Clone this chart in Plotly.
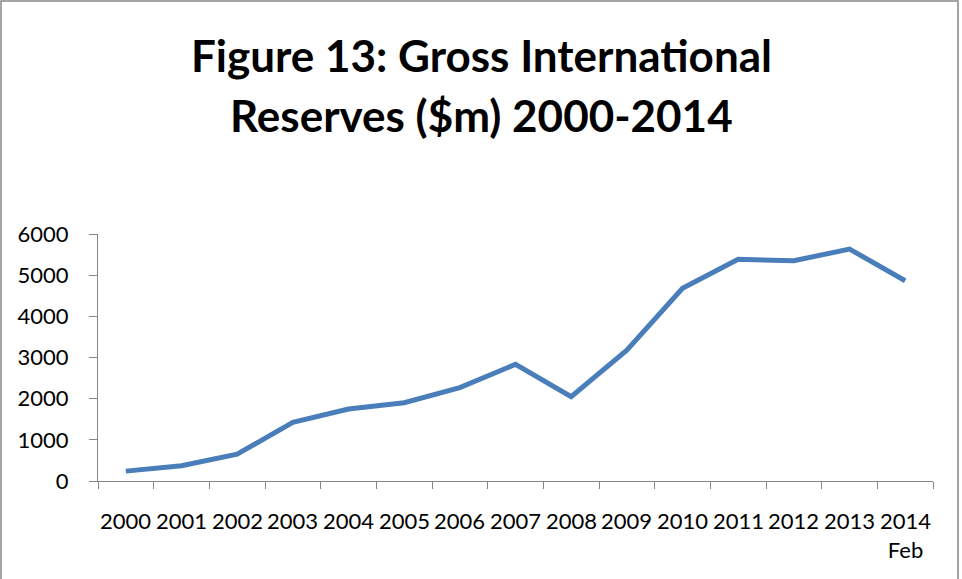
import plotly.graph_objects as go

years = ["2000", "2001", "2002", "2003", "2004", "2005", "2006", "2007",
         "2008", "2009", "2010", "2011", "2012", "2013", "2014<br>Feb"]
reserves = [240, 370, 650, 1425, 1750, 1900, 2270, 2835,
            2050, 3180, 4680, 5385, 5350, 5635, 4865]
y_ticks = [0, 1000, 2000, 3000, 4000, 5000, 6000]
title_lines = ["Figure 13: Gross International", "Reserves ($m) 2000-2014"]

W, H = 962, 579
L, R, T, B = 98, 29, 234, 98
pw, ph = W - L - R, H - T - B

def px_x(x):
    return (x - L) / pw

def px_y(y):
    return (H - B - y) / ph

fig = go.Figure()
fig.add_trace(go.Scatter(
    x=list(range(len(years))), y=reserves, mode="lines",
    line=dict(color="#4a7ebb", width=5), hoverinfo="skip", showlegend=False))

fig.update_layout(
    width=W, height=H,
    margin=dict(l=L, r=R, t=T, b=B),
    paper_bgcolor="white", plot_bgcolor="white",
    font=dict(family="Lato", color="black", size=22),
    xaxis=dict(
        range=[-0.5, len(years) - 0.5],
        tickmode="array", tickvals=[i - 0.5 for i in range(len(years) + 1)],
        ticktext=[""] * (len(years) + 1),
        ticks="outside", ticklen=7, tickcolor="#868686", tickwidth=1,
        showline=True, linecolor="#868686", linewidth=1,
        showgrid=False, zeroline=False, fixedrange=True),
    yaxis=dict(
        range=[0, 6000], tickvals=y_ticks,
        ticks="outside", ticklen=8, tickcolor="#868686", tickwidth=1,
        ticklabelstandoff=16,
        showline=True, linecolor="#868686", linewidth=1,
        showgrid=False, zeroline=False, fixedrange=True,
        tickfont=dict(size=22)),
)

# category labels
for i, lab in enumerate(years):
    fig.add_annotation(x=i, y=0, xref="x", yref="y", text=lab, showarrow=False,
                       yanchor="top", yshift=-24, font=dict(size=22), align="center")

# title lines
fig.add_annotation(x=px_x(481), y=px_y(55), xref="paper", yref="paper",
                   text="<b>%s</b>" % title_lines[0], showarrow=False,
                   yanchor="middle", xanchor="center", font=dict(size=44))
fig.add_annotation(x=px_x(481), y=px_y(115), xref="paper", yref="paper",
                   text="<b>%s</b>" % title_lines[1], showarrow=False,
                   yanchor="middle", xanchor="center", font=dict(size=44))

# outer border
fig.add_shape(type="rect", xref="paper", yref="paper",
              x0=px_x(1), x1=px_x(958), y0=px_y(590), y1=px_y(1),
              line=dict(color="#888888", width=1.5), fillcolor="rgba(0,0,0,0)",
              layer="below")

fig.write_html("out.html", config={"displayModeBar": False},
               post_script="document.body.style.margin='0';")
